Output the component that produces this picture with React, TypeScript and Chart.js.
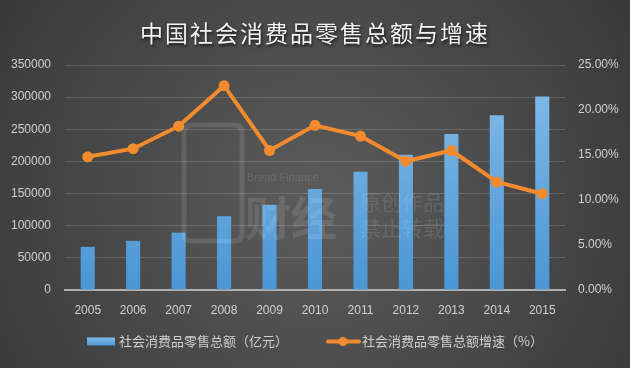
import React, { useEffect, useRef } from "react";
import { Chart, registerables } from "chart.js";

Chart.register(...registerables);

const years = ["2005", "2006", "2007", "2008", "2009", "2010", "2011", "2012", "2013", "2014", "2015"];
const salesValues = [67177, 76410, 89210, 114830, 132678, 156998, 183919, 210307, 242843, 271896, 300931];
const growthRates = [14.8, 15.7, 18.2, 22.7, 15.5, 18.3, 17.1, 14.3, 15.5, 12.0, 10.7];
const titleText = "中国社会消费品零售总额与增速";
const barLabel = "社会消费品零售总额（亿元）";
const lineLabel = "社会消费品零售总额增速（%）";

const CJK = '"Noto Sans CJK SC", "Noto Sans", sans-serif';
const NUM = '"Liberation Sans", "DejaVu Sans", sans-serif';
const ORANGE = "#f28a2e";

const backgroundPlugin = {
  id: "bg",
  beforeDraw(chart: any) {
    const { ctx, width, height } = chart;
    ctx.save();
    const g = ctx.createRadialGradient(width / 2, height * 0.55, 20, width / 2, height * 0.55, width * 0.65);
    g.addColorStop(0, "#5a5a5a");
    g.addColorStop(1, "#363636");
    ctx.fillStyle = g;
    ctx.fillRect(0, 0, width, height);
    ctx.restore();
  },
};

const watermarkPlugin = {
  id: "wm",
  afterDatasetsDraw(chart: any) {
    const { ctx } = chart;
    ctx.save();
    ctx.strokeStyle = "rgba(255,255,255,0.11)";
    ctx.fillStyle = "rgba(255,255,255,0.11)";
    ctx.lineWidth = 5;
    const x = 184, y = 125, w = 58, h = 116, r = 8;
    ctx.beginPath();
    ctx.moveTo(x + r, y);
    ctx.lineTo(x + w - r, y);
    ctx.quadraticCurveTo(x + w, y, x + w, y + r);
    ctx.lineTo(x + w, y + h - r);
    ctx.quadraticCurveTo(x + w, y + h, x + w - r, y + h);
    ctx.lineTo(x + r, y + h);
    ctx.quadraticCurveTo(x, y + h, x, y + h - r);
    ctx.lineTo(x, y + r);
    ctx.quadraticCurveTo(x, y, x + r, y);
    ctx.stroke();
    ctx.textBaseline = "middle";
    ctx.textAlign = "left";
    ctx.font = `11px ${NUM}`;
    ctx.fillText("Bread Finance", 247, 178);
    ctx.font = `bold 46px ${CJK}`;
    ctx.fillText("财经", 245, 218);
    ctx.font = `21px ${CJK}`;
    ctx.fillText("原创作品", 360, 202);
    ctx.fillText("禁止转载", 360, 228);
    ctx.restore();
  },
};

const titlePlugin = {
  id: "customTitle",
  afterDraw(chart: any) {
    const { ctx, width } = chart;
    ctx.save();
    ctx.font = `23px ${CJK}`;
    ctx.textAlign = "center";
    ctx.textBaseline = "middle";
    (ctx as any).letterSpacing = "2px";
    ctx.shadowColor = "rgba(0,0,0,0.7)";
    ctx.shadowBlur = 3;
    ctx.shadowOffsetX = 1;
    ctx.shadowOffsetY = 2;
    ctx.fillStyle = "#f2f2f2";
    ctx.fillText(titleText, width / 2, 33);
    ctx.restore();
  },
};

const legendPlugin = {
  id: "customLegend",
  afterDraw(chart: any) {
    const { ctx } = chart;
    ctx.save();
    const cy = 341.5;
    const bg = ctx.createLinearGradient(0, cy - 4, 0, cy + 4);
    bg.addColorStop(0, "#86bde9");
    bg.addColorStop(1, "#4a96d4");
    ctx.fillStyle = bg;
    ctx.fillRect(87, cy - 4, 28, 8);
    ctx.font = `13px ${CJK}`;
    ctx.textBaseline = "middle";
    ctx.textAlign = "left";
    ctx.fillStyle = "#cfcfcf";
    ctx.fillText(barLabel, 119, cy);
    ctx.strokeStyle = ORANGE;
    ctx.lineWidth = 4;
    ctx.lineCap = "round";
    ctx.beginPath();
    ctx.moveTo(328, cy);
    ctx.lineTo(359, cy);
    ctx.stroke();
    ctx.fillStyle = ORANGE;
    ctx.beginPath();
    ctx.arc(343, cy, 4.5, 0, Math.PI * 2);
    ctx.fill();
    ctx.fillStyle = "#cfcfcf";
    ctx.fillText(lineLabel, 362, cy);
    ctx.restore();
  },
};

export default function App() {
  const ref = useRef<HTMLCanvasElement | null>(null);
  useEffect(() => {
    document.body.style.margin = "0";
    const canvas = ref.current!;
    const chart = new Chart(canvas, {
      type: "bar",
      data: {
        labels: years,
        datasets: [
          {
            type: "line",
            label: lineLabel,
            data: growthRates,
            yAxisID: "y1",
            borderColor: ORANGE,
            backgroundColor: ORANGE,
            borderWidth: 4,
            pointRadius: 5.5,
            pointBackgroundColor: ORANGE,
            pointBorderWidth: 0,
            tension: 0,
            order: 0,
          } as any,
          {
            type: "bar",
            label: barLabel,
            data: salesValues,
            yAxisID: "y",
            backgroundColor: (c: any) => {
              const area = c.chart.chartArea;
              if (!area) return "#5fa6de";
              const g = c.chart.ctx.createLinearGradient(0, area.top, 0, area.bottom);
              g.addColorStop(0, "#86bde9");
              g.addColorStop(1, "#4a96d4");
              return g;
            },
            barPercentage: 0.31,
            categoryPercentage: 1,
            order: 1,
          },
        ],
      },
      options: {
        animation: false,
        responsive: false,
        layout: { padding: { top: 65, bottom: 38, left: 0, right: 0 } },
        plugins: {
          legend: { display: false },
          title: { display: false },
          tooltip: { enabled: false },
        },
        scales: {
          x: {
            grid: { display: false, drawTicks: false },
            border: { display: true, color: "#b0b0b0", width: 2 },
            ticks: { color: "#d0d0d0", font: { size: 12, family: NUM }, padding: 13 },
            afterFit: (s: any) => {
              s.height = 40;
            },
          },
          y: {
            position: "left",
            min: 0,
            max: 350000,
            ticks: {
              stepSize: 50000,
              color: "#d0d0d0",
              font: { size: 12, family: NUM },
              padding: 14,
              callback: (v: any) => String(v),
            },
            grid: { color: "rgba(255,255,255,0.16)", drawTicks: false, lineWidth: 1 },
            border: { display: false },
            afterFit: (s: any) => {
              s.width = 65;
            },
          },
          y1: {
            position: "right",
            min: 0,
            max: 25,
            ticks: {
              stepSize: 5,
              color: "#d0d0d0",
              font: { size: 12, family: NUM },
              padding: 13,
              callback: (v: any) => Number(v).toFixed(2) + "%",
            },
            grid: { display: false, drawTicks: false },
            border: { display: false },
            afterFit: (s: any) => {
              s.width = 65;
            },
          },
        },
      },
      plugins: [backgroundPlugin, watermarkPlugin, titlePlugin, legendPlugin],
    });
    return () => chart.destroy();
  }, []);
  return <canvas ref={ref} width={630} height={368} style={{ display: "block", width: 630, height: 368 }} />;
}
